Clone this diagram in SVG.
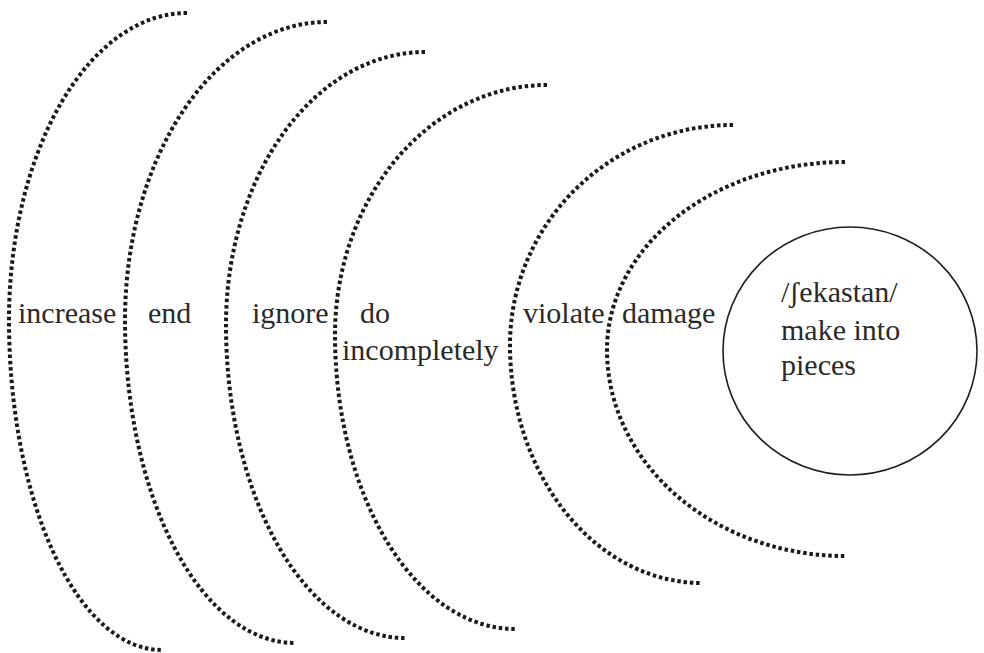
<svg xmlns="http://www.w3.org/2000/svg" width="984" height="653" viewBox="0 0 984 653">
  <style>
    .arc { fill: none; stroke: #1a1a1a; stroke-width: 4; stroke-dasharray: 3.5 2.8; stroke-linecap: butt; }
    .lbl { font-family: "Liberation Serif", "Times New Roman", "Noto Serif", "DejaVu Serif", serif; font-size: 30px; fill: #2a2a2a; }
    .core { fill: #ffffff; stroke: #1e1e1e; stroke-width: 1.6; }
  </style>
  <rect x="0" y="0" width="984" height="653" fill="#ffffff"/>
  <g id="ring-increase">
    <path class="arc" d="M187,13 A178,307 0 0 0 9,320 A153,330 0 0 0 162,650"/>
    <text class="lbl" x="18" y="323" style="font-family: 'Liberation Serif', serif">increase</text>
  </g>
  <g id="ring-end">
    <path class="arc" d="M327,22 A202,298 0 0 0 125,320 A170,323 0 0 0 295,643"/>
    <text class="lbl" x="148" y="323" style="font-family: 'Liberation Serif', serif">end</text>
  </g>
  <g id="ring-ignore">
    <path class="arc" d="M425,52 A199,273 0 0 0 226,325 A179,313 0 0 0 405,638"/>
    <text class="lbl" x="252" y="323" style="font-family: 'Liberation Serif', serif">ignore</text>
  </g>
  <g id="ring-do-incompletely">
    <path class="arc" d="M547,85 A212,250 0 0 0 335,335 A180,294 0 0 0 515,629"/>
    <text class="lbl" x="360" y="323" style="font-family: 'Liberation Serif', serif">do</text>
    <text class="lbl" x="342" y="360" style="font-family: 'Liberation Serif', serif">incompletely</text>
  </g>
  <g id="ring-violate">
    <path class="arc" d="M733,125 A223,220 0 0 0 510,345 A192,238 0 0 0 702,583"/>
    <text class="lbl" x="523" y="323" style="font-family: 'Liberation Serif', serif">violate</text>
  </g>
  <g id="ring-damage">
    <path class="arc" d="M845,162 A238,188 0 0 0 607,350 A238,206 0 0 0 845,556"/>
    <text class="lbl" x="622" y="323" style="font-family: 'Liberation Serif', serif">damage</text>
  </g>
  <g id="core">
    <ellipse class="core" cx="850" cy="351" rx="127" ry="124"/>
    <text class="lbl" x="781" y="302" style="font-family: 'Liberation Serif', serif">/ʃekastan/</text>
    <text class="lbl" x="781" y="340" style="font-family: 'Liberation Serif', serif">make into</text>
    <text class="lbl" x="781" y="375" style="font-family: 'Liberation Serif', serif">pieces</text>
  </g>
</svg>
